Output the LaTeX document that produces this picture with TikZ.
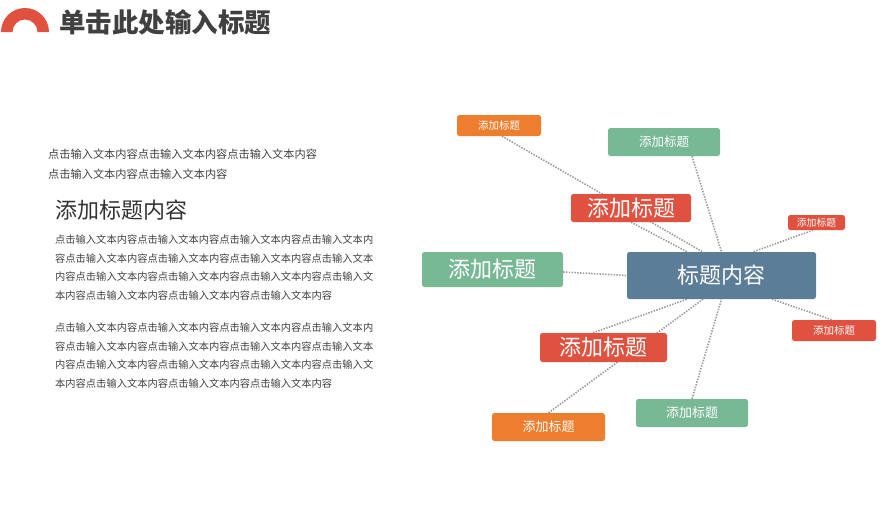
\documentclass[tikz,border=0pt]{standalone}
\usepackage{fontspec}
\setmainfont{Noto Sans CJK SC}
\usetikzlibrary{calc,backgrounds}
\definecolor{cOrange}{HTML}{EE7D2E}
\definecolor{cGreen}{HTML}{78B995}
\definecolor{cRed}{HTML}{E0523F}
\definecolor{cBlue}{HTML}{5C7D98}
\definecolor{cText}{HTML}{404040}
\definecolor{cLine}{HTML}{999999}
\newcommand\fsz[1]{\fontsize{#1}{#1}\selectfont}
\tikzset{
  boxnode/.style={rounded corners=2.5pt, inner sep=0pt, text=white, align=center},
  link/.style={draw=cLine, line width=1.6pt, dash pattern=on 1.4pt off 1.4pt},
  bodyline/.style={anchor=west, inner sep=0pt, text=cText},
}
\begin{document}
\begin{tikzpicture}[x=1pt,y=-1pt]
\useasboundingbox (0,0) rectangle (896,504);
% header
\fill[cRed] (1,32) arc[start angle=180,end angle=360,radius=24] -- (37.5,32) arc[start angle=360,end angle=180,radius=12.5] -- cycle;
\node[anchor=west, inner sep=0pt, text=cText] (title) at (59,22) {\fsz{26.5}\bfseries 单击此处输入标题};
% left text
\node[bodyline] (l1) at (48,154) {\fsz{11.2}点击输入文本内容点击输入文本内容点击输入文本内容};
\node[bodyline] (l2) at (48,174) {\fsz{11.2}点击输入文本内容点击输入文本内容};
\node[bodyline, text=black!80] (h) at (55,210) {\fsz{22}添加标题内容};
\node[bodyline] (p1) at (55,240) {\fsz{10.26}点击输入文本内容点击输入文本内容点击输入文本内容点击输入文本内};
\node[bodyline] (p2) at (55,258.5) {\fsz{10.26}容点击输入文本内容点击输入文本内容点击输入文本内容点击输入文本};
\node[bodyline] (p3) at (55,277) {\fsz{10.26}内容点击输入文本内容点击输入文本内容点击输入文本内容点击输入文};
\node[bodyline] (p4) at (55,295.5) {\fsz{10.26}本内容点击输入文本内容点击输入文本内容点击输入文本内容};
\node[bodyline] (q1) at (55,328) {\fsz{10.26}点击输入文本内容点击输入文本内容点击输入文本内容点击输入文本内};
\node[bodyline] (q2) at (55,346.5) {\fsz{10.26}容点击输入文本内容点击输入文本内容点击输入文本内容点击输入文本};
\node[bodyline] (q3) at (55,365) {\fsz{10.26}内容点击输入文本内容点击输入文本内容点击输入文本内容点击输入文};
\node[bodyline] (q4) at (55,383.5) {\fsz{10.26}本内容点击输入文本内容点击输入文本内容点击输入文本内容};
% mind map boxes
\node[boxnode, fill=cBlue, minimum width=189pt, minimum height=47pt] (c) at (721.5,275.5) {\fsz{22}标题内容};
\node[boxnode, fill=cOrange, minimum width=84pt, minimum height=21pt] (o1) at (499,125.5) {\fsz{10.5}添加标题};
\node[boxnode, fill=cGreen, minimum width=112pt, minimum height=28pt] (g1) at (664,142) {\fsz{12.5}添加标题};
\node[boxnode, fill=cRed, minimum width=120pt, minimum height=28pt] (r1) at (631,208) {\fsz{22}添加标题};
\node[boxnode, fill=cRed, minimum width=57pt, minimum height=15pt] (r2) at (816.5,222.5) {\fsz{9.8}添加标题};
\node[boxnode, fill=cGreen, minimum width=141pt, minimum height=35pt] (g2) at (492.5,269.5) {\fsz{22}添加标题};
\node[boxnode, fill=cRed, minimum width=84pt, minimum height=21pt] (r3) at (834,330.5) {\fsz{10.5}添加标题};
\node[boxnode, fill=cRed, minimum width=127pt, minimum height=29pt] (r4) at (603.5,347.5) {\fsz{22}添加标题};
\node[boxnode, fill=cGreen, minimum width=112pt, minimum height=28pt] (g3) at (692,413) {\fsz{13}添加标题};
\node[boxnode, fill=cOrange, minimum width=113pt, minimum height=28pt] (o2) at (548.5,427) {\fsz{13}添加标题};
% connectors
\begin{scope}[on background layer]
\draw[link] ($(o1.south)+(3,0)$) -- ($(c.north)+(-19,0)$);
\draw[link] (r1.south) -- ($(c.north)+(-34.5,0)$);
\draw[link] ($(g1.south)+(28,0)$) -- (c.north);
\draw[link] ($(r2.south)+(-3.5,0)$) -- ($(c.north)+(31.5,0)$);
\draw[link] ($(g2.east)+(0,2.5)$) -- (c.west);
\draw[link] ($(c.south)+(50.5,0)$) -- ($(r3.north)+(-2,0)$);
\draw[link] ($(r4.north)+(-10.5,0)$) -- ($(c.south)+(-34.5,0)$);
\draw[link] (o2.north) -- ($(c.south)+(-18.5,0)$);
\draw[link] (g3.north) -- (c.south);
\end{scope}
\end{tikzpicture}
\end{document}
